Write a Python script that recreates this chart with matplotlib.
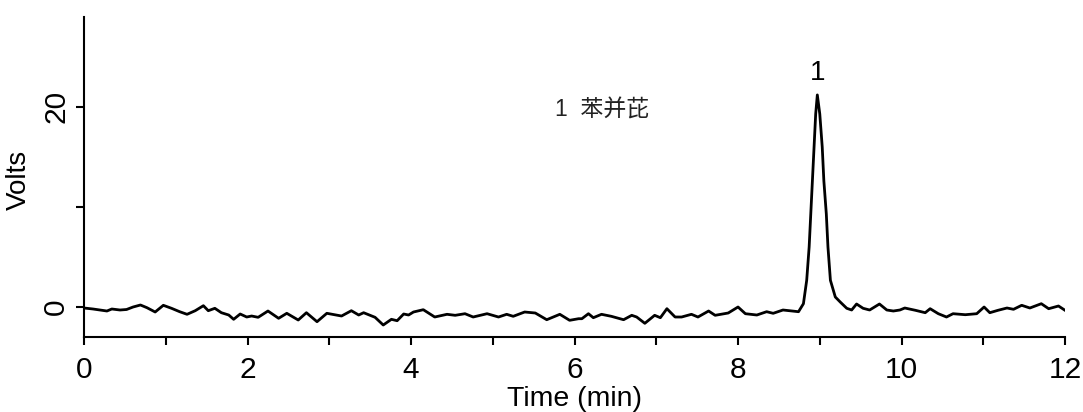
import matplotlib
matplotlib.use("Agg")
import matplotlib.pyplot as plt

# chromatogram trace (time in min, signal in volts)
time_min = [0.0, 0.11, 0.2, 0.28, 0.34, 0.44, 0.52, 0.6, 0.69, 0.77, 0.87, 0.97,
            1.07, 1.17, 1.26, 1.36, 1.46, 1.52, 1.6, 1.68, 1.77, 1.83, 1.91, 1.99,
            2.05, 2.13, 2.25, 2.38, 2.48, 2.62, 2.72, 2.85, 2.97, 3.15, 3.27, 3.36,
            3.42, 3.56, 3.66, 3.76, 3.83, 3.91, 3.97, 4.03, 4.15, 4.29, 4.44, 4.54,
            4.66, 4.76, 4.93, 5.07, 5.17, 5.25, 5.39, 5.52, 5.66, 5.82, 5.94, 6.05,
            6.09, 6.17, 6.23, 6.33, 6.45, 6.6, 6.7, 6.76, 6.86, 6.98, 7.05, 7.13,
            7.23, 7.31, 7.43, 7.51, 7.64, 7.72, 7.88, 8.0, 8.09, 8.23, 8.35, 8.43,
            8.55, 8.66, 8.74, 8.8, 8.84, 8.87, 8.89, 8.91, 8.93, 8.95, 8.97, 9.0,
            9.03, 9.05, 9.08, 9.1, 9.13, 9.19, 9.25, 9.33, 9.39, 9.45, 9.53, 9.61,
            9.73, 9.82, 9.9, 9.98, 10.04, 10.17, 10.29, 10.35, 10.45, 10.55, 10.63,
            10.78, 10.92, 11.01, 11.08, 11.18, 11.29, 11.37, 11.47, 11.57, 11.71,
            11.8, 11.92, 12.0]
volts = [-0.1, -0.2, -0.3, -0.4, -0.2, -0.3, -0.25, 0.0, 0.2, -0.07, -0.5, 0.17,
         -0.13, -0.47, -0.73, -0.37, 0.13, -0.37, -0.13, -0.57, -0.8, -1.23, -0.7, -1.0,
         -0.9, -1.03, -0.4, -1.13, -0.63, -1.3, -0.57, -1.47, -0.63, -0.9, -0.37, -0.8,
         -0.57, -1.03, -1.8, -1.23, -1.37, -0.7, -0.8, -0.5, -0.27, -1.0, -0.73, -0.83,
         -0.67, -1.0, -0.67, -1.0, -0.73, -0.93, -0.5, -0.6, -1.27, -0.73, -1.33, -1.17,
         -1.17, -0.67, -1.07, -0.73, -0.93, -1.27, -0.83, -1.0, -1.63, -0.83, -1.07, -0.17,
         -1.0, -1.0, -0.73, -1.0, -0.4, -0.83, -0.6, 0.0, -0.67, -0.8, -0.47, -0.63,
         -0.3, -0.4, -0.47, 0.33, 2.67, 6.0, 9.3, 12.6, 16.0, 19.3, 21.2, 19.3,
         16.0, 12.6, 9.3, 6.0, 2.67, 1.0, 0.5, -0.13, -0.3, 0.3, -0.13, -0.3,
         0.3, -0.3, -0.4, -0.3, -0.1, -0.33, -0.57, -0.17, -0.67, -1.0, -0.67,
         -0.77, -0.67, 0.0, -0.57, -0.33, -0.1, -0.23, 0.17, -0.1, 0.33,
         -0.17, 0.1, -0.33]

peak_time = 8.97
peak_label = "1"
compound = "1  苯并芘"

plt.rcParams['font.family'] = ['Liberation Sans', 'Noto Sans CJK SC', 'DejaVu Sans']

fig = plt.figure(figsize=(10.83, 4.12), dpi=100)
ax = fig.add_axes([0.0776, 0.182, 0.9058, 0.777])

ax.plot(time_min, volts, color='black', linewidth=2.0)

ax.set_xlim(0, 12)
ax.set_ylim(-3, 29)
ax.spines['top'].set_visible(False)
ax.spines['right'].set_visible(False)
ax.spines['left'].set_linewidth(1.5)
ax.spines['bottom'].set_linewidth(1.5)

ax.set_xticks([0, 2, 4, 6, 8, 10, 12])
ax.set_xticks([1, 3, 5, 7, 9, 11], minor=True)
ax.set_yticks([0, 10, 20])
ax.set_yticklabels(['0', '', '20'], rotation=90, va='center')
ax.tick_params(axis='both', which='both', length=6, width=1.5, labelsize=21.5)
ax.tick_params(axis='y', pad=4)
ax.tick_params(axis='x', pad=8)

ax.set_xlabel('Time (min)', fontsize=20.5)
ax.xaxis.set_label_coords(0.5, -0.152)
ax.set_ylabel('Volts', fontsize=20)
ax.yaxis.set_label_coords(-0.053, 0.49)

ax.text(peak_time, 23.4, peak_label, fontsize=20, ha='center', va='center')
ax.text(5.76, 19.7, compound, fontsize=16.5, ha='left', va='center', color='#222222')

fig.savefig('out.png', dpi=100)
